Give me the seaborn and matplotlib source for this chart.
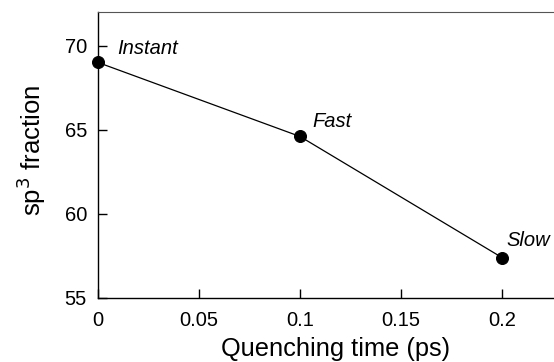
import numpy as np
import pandas as pd
import matplotlib
matplotlib.use("Agg")
import matplotlib.pyplot as plt
import seaborn as sns

quench_time = [0.0, 0.1, 0.2]
sp3_fraction = [69.0, 64.6, 57.4]
point_labels = ["Instant", "Fast", "Slow"]

sns.set_style("ticks")
plt.rcParams["font.family"] = ["Liberation Sans", "DejaVu Sans"]
plt.rcParams["text.color"] = "black"
plt.rcParams["axes.labelcolor"] = "black"
plt.rcParams["xtick.color"] = "black"
plt.rcParams["ytick.color"] = "black"
plt.rcParams["axes.edgecolor"] = "black"
plt.rcParams["xtick.direction"] = "in"
plt.rcParams["ytick.direction"] = "in"

df = pd.DataFrame({"t": quench_time, "sp3": sp3_fraction, "label": point_labels})

fig = plt.figure(figsize=(5.54, 3.62), dpi=100)
ax = fig.add_axes([98 / 554, 1 - 298 / 362, 1.0 - 98 / 554, (298 - 12) / 362])

sns.lineplot(data=df, x="t", y="sp3", ax=ax, color="black", linewidth=0.9,
             marker="o", markersize=8.6, markeredgecolor="black", markerfacecolor="black")

# label offsets in points (text left edge / baseline relative to the marker)
offsets = [(14, 6), (9, 6.5), (3, 8.5)]
for (_, row), off in zip(df.iterrows(), offsets):
    ax.annotate(row["label"], (row["t"], row["sp3"]), xytext=off, textcoords="offset points",
                fontsize=14.5, fontstyle="italic", ha="left", va="baseline")

ax.set_xlim(0, 0.2257)
ax.set_ylim(55, 72)
ax.set_xticks([0, 0.05, 0.1, 0.15, 0.2])
ax.set_xticklabels(["0", "0.05", "0.1", "0.15", "0.2"])
ax.set_yticks([55, 60, 65, 70])
ax.tick_params(direction="in", length=6.5, width=1.0, labelsize=14.5, pad=8,
               bottom=True, left=True, colors="black")
ax.tick_params(axis="x", pad=9)

ax.set_xlabel("Quenching time (ps)", fontsize=18.3)
ax.set_ylabel("sp$^3$ fraction", fontsize=18.5)
ax.xaxis.set_label_coords((336 - 98) / 456, -0.136)
ax.yaxis.set_label_coords(-0.11, 0.515)

for s in ["left", "bottom"]:
    ax.spines[s].set_linewidth(1.0)
ax.spines["top"].set_linewidth(0.8)
ax.spines["top"].set_color("#555555")
ax.spines["right"].set_visible(False)
for line in ax.lines:
    line.set_clip_on(False)

fig.savefig("out.png", dpi=100)
